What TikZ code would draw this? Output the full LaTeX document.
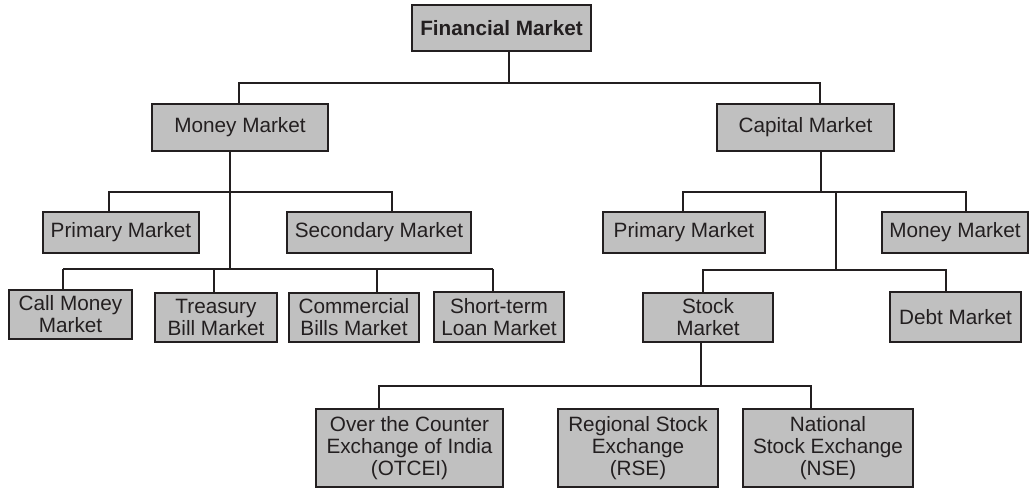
\documentclass[tikz,border=0pt]{standalone}
\usepackage{fontspec}
\setmainfont{Liberation Sans}
\usepackage{tikz}
\usetikzlibrary{positioning}
\definecolor{boxgray}{RGB}{192,192,192}
\definecolor{inkline}{RGB}{35,31,32}

\begin{document}
\begin{tikzpicture}[x=0.02cm,y=-0.02cm,
		mkt/.style={draw=inkline,fill=boxgray,line width=1.1pt,inner sep=0pt,align=center,
			font=\fontsize{11.8}{12.6}\selectfont,text=inkline},
		sz/.style 2 args={minimum width=#1*0.02cm,minimum height=#2*0.02cm},
		link/.style={draw=inkline,line width=1.1pt}]
		\useasboundingbox (0,0) rectangle (1029,488);
		% top
		\node[mkt,sz={179}{46},font=\fontsize{11.8}{12.6}\selectfont\bfseries] (fin) at (501.5,28) {Financial Market};
		\node[mkt,sz={176}{47}] (mm) at (240,127.5) {Money Market};
		\node[mkt,sz={177}{47}] (cap) at (805.5,127.5) {Capital Market};
		% money market side
		\node[mkt,sz={156}{41}] (pm1) at (121,232.5) {Primary Market};
		\node[mkt,sz={184}{41}] (sm1) at (379,232.5) {Secondary Market};
		\node[mkt,sz={123}{49}] (call) at (70.5,314.5) {Call Money\\Market};
		\node[mkt,sz={122}{49}] (tbm) at (216,317.5) {Treasury\\Bill Market};
		\node[mkt,sz={130}{49}] (cbm) at (354,317.5) {Commercial\\Bills Market};
		\node[mkt,sz={130}{50}] (slm) at (499,317) {Short-term\\Loan Market};
		% capital market side
		\node[mkt,sz={162}{41}] (pm2) at (684,232.5) {Primary Market};
		\node[mkt,sz={146}{41}] (mm2) at (955,232.5) {Money Market};
		\node[mkt,sz={130}{49}] (stock) at (708,317.5) {Stock\\Market};
		\node[mkt,sz={131}{50}] (debt) at (955.5,317) {Debt Market};
		% exchanges
		\node[mkt,sz={187}{78}] (otc) at (409.5,448) {Over the Counter\\Exchange of India\\(OTCEI)};
		\node[mkt,sz={160}{78}] (rse) at (638,448) {Regional Stock\\Exchange\\(RSE)};
		\node[mkt,sz={170}{78}] (nse) at (828,448) {National\\Stock Exchange\\(NSE)};

		% junctions
		\coordinate (j0) at (509,83);
		\coordinate (b0a) at (239,83);
		\coordinate (b0b) at (820,83);
		\coordinate (m1a) at (109,192);
		\coordinate (m1b) at (392,192);
		\coordinate (m2) at (230,269);
		\coordinate (m2a) at (63,269);
		\coordinate (m2b) at (214,269);
		\coordinate (m2c) at (377,269);
		\coordinate (m2d) at (493,269);
		\coordinate (c1) at (821,192);
		\coordinate (c1a) at (683,192);
		\coordinate (c1b) at (966,192);
		\coordinate (c2t) at (836,192);
		\coordinate (c2) at (836,270);
		\coordinate (c2a) at (703,270);
		\coordinate (c2b) at (946,270);
		\coordinate (s1) at (701,386);
		\coordinate (s1a) at (379,386);
		\coordinate (s1b) at (811,386);

		% connectors
		\draw[link] (fin.south -| j0) -- (j0);
		\draw[link] (mm.north -| b0a) -- (b0a) -- (b0b) -- (cap.north -| b0b);
		\draw[link] (mm.south -| m2) -- (m2);
		\draw[link] (pm1.north -| m1a) -- (m1a) -- (m1b) -- (sm1.north -| m1b);
		\draw[link] (m2a) -- (m2d);
		\foreach \n/\c in {call/m2a,tbm/m2b,cbm/m2c,slm/m2d}
			\draw[link] (\n.north -| \c) -- (\c);
		\draw[link] (cap.south -| c1) -- (c1);
		\draw[link] (pm2.north -| c1a) -- (c1a) -- (c1b) -- (mm2.north -| c1b);
		\draw[link] (c2t) -- (c2);
		\draw[link] (stock.north -| c2a) -- (c2a) -- (c2b) -- (debt.north -| c2b);
		\draw[link] (stock.south -| s1) -- (s1);
		\draw[link] (otc.north -| s1a) -- (s1a) -- (s1b) -- (nse.north -| s1b);
	\end{tikzpicture}
\end{document}
